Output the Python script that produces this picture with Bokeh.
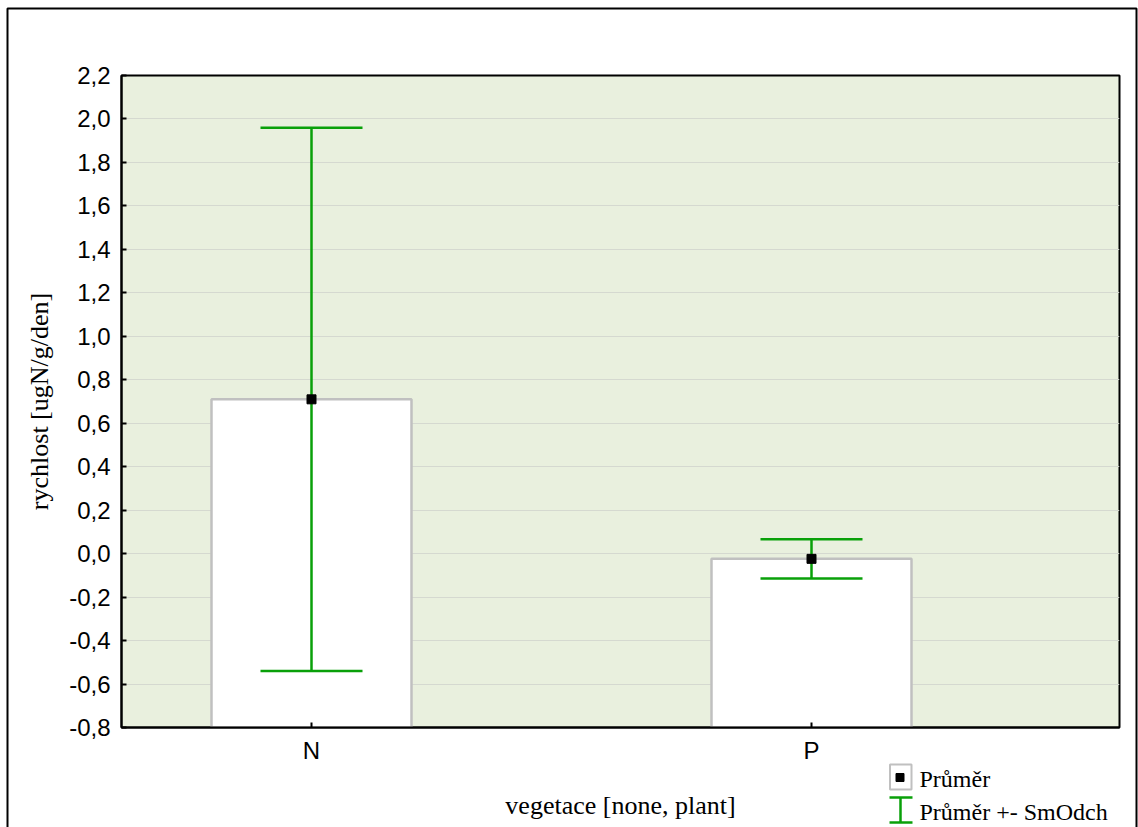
from bokeh.plotting import figure
from bokeh.layouts import column
from bokeh.models import (Range1d, FixedTicker, CustomJSTickFormatter, ColumnDataSource, GridBox)
from bokeh.core.properties import value
from bokeh.embed import file_html
from bokeh.resources import INLINE

# ---- data ----
categories = ["N", "P"]
means = [0.71, -0.024]
sds = [1.25, 0.09]
y_ticks = [-0.8, -0.6, -0.4, -0.2, 0.0, 0.2, 0.4, 0.6, 0.8, 1.0, 1.2, 1.4, 1.6, 1.8, 2.0, 2.2]
x_label = "vegetace [none, plant]"
y_label = "rychlost [ugN/g/den]"
legend_labels = ["Průměr", "Průměr +- SmOdch"]

CAP_HALF = 0.102   # half width of error-bar caps (x units)
BAR_W = 0.4

x_pos = [i + 1 for i in range(len(categories))]
upper = [m + s for m, s in zip(means, sds)]
lower = [m - s for m, s in zip(means, sds)]
y_min, y_max = y_ticks[0], y_ticks[-1]

src = ColumnDataSource(dict(x=x_pos, mean=means, upper=upper, lower=lower,
                            base=[y_min] * len(x_pos),
                            cl=[x - CAP_HALF for x in x_pos],
                            cr=[x + CAP_HALF for x in x_pos]))

GREEN = "#09A009"
SERIF = "Liberation Serif"
SANS = "Liberation Sans"
W, H = 1138, 827

p = figure(width=W, height=H, x_range=Range1d(0.62, 2.616), y_range=Range1d(y_min, y_max),
           output_backend="svg", toolbar_location=None,
           min_border_left=121, min_border_right=19, min_border_top=75, min_border_bottom=100,
           background_fill_color="#E9F0DE", border_fill_color="white",
           outline_line_color="black", outline_line_width=2)

# bars
p.vbar(x="x", top="mean", bottom="base", width=BAR_W, source=src,
       fill_color="white", line_color="#C0C0C0", line_width=2.5)

# error bars
p.segment(x0="x", y0="lower", x1="x", y1="upper", source=src, line_color=GREEN, line_width=2.5)
p.segment(x0="cl", y0="upper", x1="cr", y1="upper", source=src, line_color=GREEN, line_width=2.5)
p.segment(x0="cl", y0="lower", x1="cr", y1="lower", source=src, line_color=GREEN, line_width=2.5)

# means
p.scatter(x="x", y="mean", source=src, marker="square", size=9,
          fill_color="black", line_color="black")

# axes
p.xaxis.ticker = FixedTicker(ticks=x_pos)
p.xaxis.major_label_overrides = {x: c for x, c in zip(x_pos, categories)}
p.yaxis.ticker = FixedTicker(ticks=y_ticks)
p.yaxis.formatter = CustomJSTickFormatter(
    code="if (Math.abs(tick) < 1e-9) { return '0,0'; } return tick.toFixed(1).replace('.', ',');")

for ax in (p.xaxis[0], p.yaxis[0]):
    ax.axis_line_color = "black"
    ax.axis_line_width = 2
    ax.major_tick_in = 5
    ax.major_tick_out = 0
    ax.major_tick_line_width = 2
    ax.major_tick_line_color = "black"
    ax.minor_tick_line_color = None
    ax.major_label_text_font = SANS
    ax.major_label_text_font_size = "24px"
    ax.major_label_text_color = "black"
    ax.axis_label_text_font = SERIF
    ax.axis_label_text_font_size = "26px"
    ax.axis_label_text_font_style = "normal"
    ax.axis_label_text_color = "black"

p.xaxis.axis_label = x_label
p.yaxis.axis_label = y_label
p.xaxis.major_label_standoff = 9
p.yaxis.major_label_standoff = 11
p.xaxis.axis_label_standoff = 24
p.yaxis.axis_label_standoff = 12

p.xgrid.visible = False
p.ygrid.grid_line_color = "#D5D9D0"
p.ygrid.grid_line_width = 1

# ---- overlay figure (pixel coordinates) for outer border and legend ----
q = figure(width=W, height=H, x_range=Range1d(0, W), y_range=Range1d(H, 0),
           x_axis_type=None, y_axis_type=None,
           min_border=0, min_border_left=0, min_border_right=0,
           min_border_top=0, min_border_bottom=0,
           output_backend="svg", toolbar_location=None,
           background_fill_alpha=0, border_fill_alpha=0, outline_line_color=None)
q.xgrid.visible = False
q.ygrid.visible = False

# outer frame
q.quad(left=[7], right=[1136], top=[8], bottom=[H + 20], fill_alpha=0,
       line_color="black", line_width=2)

# legend symbols
q.quad(left=[889.5], right=[911], top=[764], bottom=[789], fill_color="white",
       line_color="#C0C0C0", line_width=2)
q.quad(left=[895.5], right=[903.5], top=[773], bottom=[781], fill_color="black",
       line_color="black", line_width=1)
q.segment(x0=[889, 889, 900], y0=[797, 822, 797], x1=[912, 912, 900], y1=[797, 822, 822],
          line_color=GREEN, line_width=2.5)

q.text(x=[919, 919], y=[778, 811], text=legend_labels, text_font=value(SERIF),
       text_font_size="24px", text_color="black", text_baseline="alphabetic", text_align="left")

layout = GridBox(children=[(column(p), 0, 0), (column(q), 0, 0)])

open("out.html", "w").write(file_html(layout, INLINE))
